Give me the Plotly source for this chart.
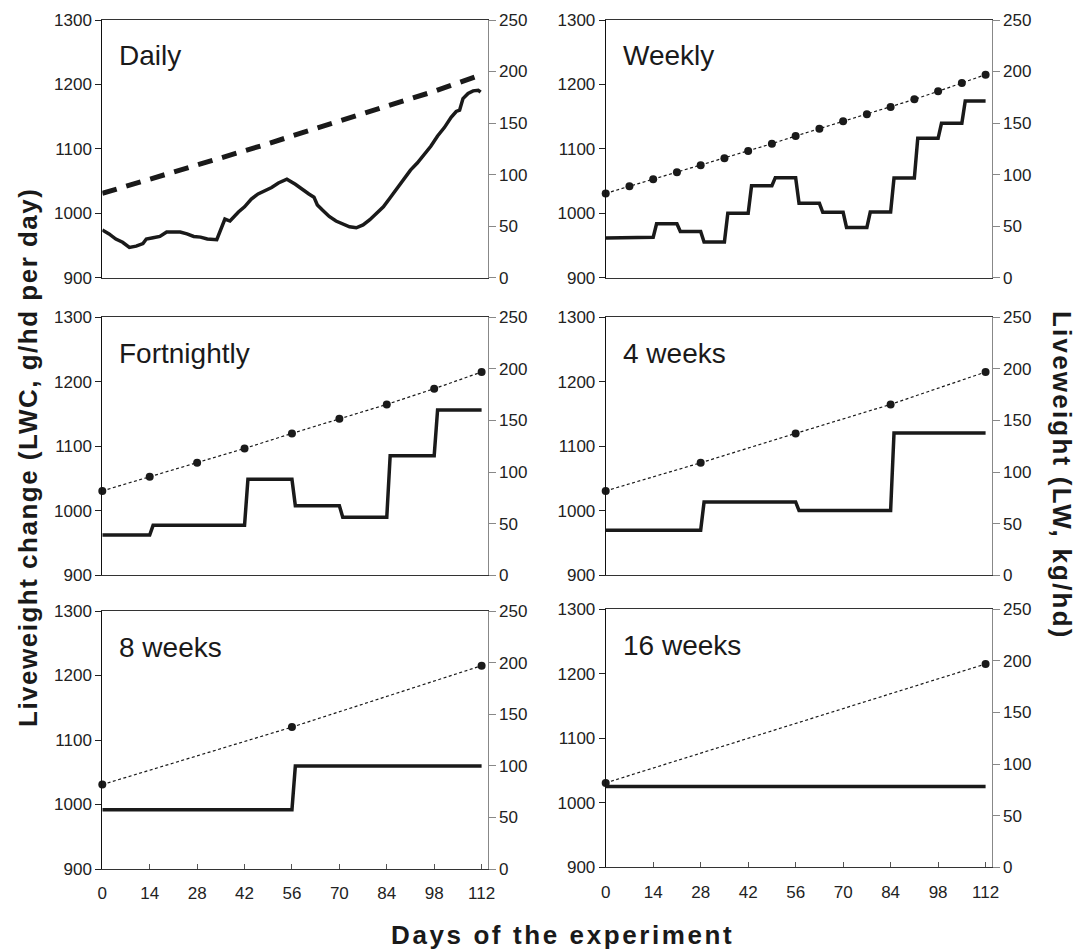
import plotly.graph_objects as go

# ---------------- data ----------------
panel_names = ["Daily", "Weekly", "Fortnightly", "4 weeks", "8 weeks", "16 weeks"]
day_ticks = [0, 14, 28, 42, 56, 70, 84, 98, 112]
lwc_ticks = [900, 1000, 1100, 1200, 1300]
lw_ticks = [0, 50, 100, 150, 200, 250]

# Liveweight (kg/hd) measured weekly
lw_days = [0, 7, 14, 21, 28, 35, 42, 49, 56, 63, 70, 77, 84, 91, 98, 105, 112]
lw_values = [81.8, 88.6, 95.4, 102.2, 109.0, 115.8, 122.9, 130.0, 137.5,
             144.6, 151.7, 158.5, 165.6, 173.0, 180.8, 188.9, 197.0]

# Daily liveweight change (g/hd per day)
daily_days = [0, 2, 4, 6, 8, 10, 12, 13, 15, 17, 19, 21, 23, 25, 27, 29, 31, 33.8,
              36.2, 37.7, 40.2, 42, 44, 46, 48, 50, 52, 54.5, 57, 59, 61, 62.5, 63.5,
              65, 67, 69, 71, 73, 75, 77, 79, 81, 83, 85, 87, 89, 91, 93, 95, 97, 99,
              101, 103, 104.5, 105.5, 106.5, 108, 109.5, 111, 111.7]
daily_lwc = [974, 968, 960, 955, 947, 949, 953, 960, 962, 964, 971, 971, 971, 968,
             964, 963, 960, 959, 991, 988, 1002, 1010, 1022, 1030, 1035, 1040, 1047,
             1053, 1045, 1037, 1030, 1025, 1013, 1005, 995, 988, 983, 979, 977.5, 982,
             990, 1000, 1010, 1024, 1038, 1053, 1067, 1078, 1090, 1104, 1120, 1133,
             1149, 1158, 1160, 1178, 1186, 1190, 1191, 1188]

# Liveweight change per weighing interval (g/hd per day)
weekly_lwc = [961.6, 962.6, 983.8, 971.9, 955.4, 999.9, 1042.8, 1055.3, 1015.4,
              1001.4, 978.1, 1001.9, 1054.7, 1116.3, 1139.6, 1174.3]
fortnightly_lwc = [962.5, 977.5, 977.5, 1048.8, 1008.0, 989.9, 1085.5, 1156.3]
four_week_lwc = [969.8, 1013.7, 1000.3, 1120.7]
eight_week_lwc = [992.0, 1059.7]
sixteen_week_lwc = [1025.1]

interval_days = [7, 14, 28, 56, 112]
interval_lwc = [weekly_lwc, fortnightly_lwc, four_week_lwc, eight_week_lwc, sixteen_week_lwc]

# ---------------- layout geometry (pixels) ----------------
W, H = 1077, 951
col_px = [(102.3, 487.7), (605.7, 991.7)]
row_px = [[(20, 277.7), (317.3, 575.3), (611, 869)],
          [(20, 277.7), (317.3, 575.3), (609.3, 867.3)]]

FONT = "Liberation Sans, Arial, Helvetica, sans-serif"
INK = "#1a1a1a"


def step_xy(levels, length):
    xs, ys = [], []
    for k, v in enumerate(levels):
        xs += [k * length + (1 if k > 0 else 0), (k + 1) * length]
        ys += [v, v]
    return xs, ys


fig = go.Figure()
layout = {}
annotations = []

for p, name in enumerate(panel_names):
    row, col = p // 2, p % 2
    x0, x1 = col_px[col]
    y0, y1 = row_px[col][row]
    xn = "" if p == 0 else str(p + 1)
    yl = "" if p == 0 else str(2 * p + 1)
    yr = str(2 * p + 2)
    xref, ylref, yrref = "x" + xn, "y" + yl, "y" + yr
    bottom = row == 2

    layout["xaxis" + xn] = dict(
        domain=[x0 / W, x1 / W], range=[0, 113.8], anchor=ylref,
        showline=True, linecolor="#333", linewidth=1, mirror=True,
        showgrid=False, zeroline=False,
        tickvals=day_ticks if bottom else [],
        ticks="inside" if bottom else "", ticklen=5, tickcolor="#555",
        showticklabels=bottom, ticklabelstandoff=9,
        tickfont=dict(family=FONT, size=17, color="#222"), automargin=False)
    layout["yaxis" + yl] = dict(
        domain=[1 - y1 / H, 1 - y0 / H], range=[900, 1300], anchor=xref,
        showline=True, linecolor="#111", linewidth=1,
        showgrid=False, zeroline=False, tickvals=lwc_ticks,
        ticks="outside", ticklen=6, tickcolor="#222",
        tickfont=dict(family=FONT, size=17, color="#222"), automargin=False)
    layout["yaxis" + yr] = dict(
        range=[0, 250], overlaying=ylref, side="right", anchor=xref,
        showline=True, linecolor="#888", linewidth=1,
        showgrid=False, zeroline=False, tickvals=lw_ticks,
        ticks="outside", ticklen=7, tickcolor="#888",
        tickfont=dict(family=FONT, size=17, color="#222"), automargin=False)

    if p == 0:
        fig.add_trace(go.Scatter(x=daily_days, y=daily_lwc, xaxis=xref, yaxis=ylref,
                                 mode="lines", line=dict(color=INK, width=3.5),
                                 showlegend=False))
        fig.add_trace(go.Scatter(x=lw_days, y=lw_values, xaxis=xref, yaxis=yrref,
                                 mode="lines",
                                 line=dict(color=INK, width=5, dash="15px,10px"),
                                 showlegend=False))
    else:
        L = interval_days[p - 1]
        sx, sy = step_xy(interval_lwc[p - 1], L)
        fig.add_trace(go.Scatter(x=sx, y=sy, xaxis=xref, yaxis=ylref, mode="lines",
                                 line=dict(color=INK, width=3.5), showlegend=False))
        step = L // 7
        fig.add_trace(go.Scatter(x=lw_days[::step], y=lw_values[::step],
                                 xaxis=xref, yaxis=yrref, mode="lines+markers",
                                 line=dict(color=INK, width=1.2, dash="3px,2.5px"),
                                 marker=dict(color=INK, size=8), cliponaxis=False,
                                 showlegend=False))

    annotations.append(dict(
        text=name, xref="paper", yref="paper", x=(x0 + 15) / W, y=1 - (y0 + 36) / H,
        xanchor="left", yanchor="middle", showarrow=False,
        font=dict(family=FONT, size=28, color="#1a1a1a")))

TITLE_FONT = dict(family=FONT, size=26, color="#1a1a1a")


def title_text(s, spacing):
    return "<b><span style='letter-spacing:%spx'>%s</span></b>" % (spacing, s)


annotations.append(dict(text=title_text("Liveweight change (LWC, g/hd per day)", 1.5),
                        xref="paper", yref="paper", x=28 / W, y=1 - 458 / H,
                        xanchor="center", yanchor="middle", textangle=-90,
                        showarrow=False, font=TITLE_FONT))
annotations.append(dict(text=title_text("Liveweight (LW, kg/hd)", 2.2),
                        xref="paper", yref="paper", x=1062 / W, y=1 - 475 / H,
                        xanchor="center", yanchor="middle", textangle=90,
                        showarrow=False, font=TITLE_FONT))
annotations.append(dict(text=title_text("Days of the experiment", 2.6),
                        xref="paper", yref="paper", x=562 / W, y=1 - 935 / H,
                        xanchor="center", yanchor="middle",
                        showarrow=False, font=TITLE_FONT))

fig.update_layout(**layout)
fig.update_layout(width=W, height=H, margin=dict(l=0, r=0, t=0, b=0),
                  paper_bgcolor="white", plot_bgcolor="white",
                  annotations=annotations, showlegend=False)

fig.write_html("out.html", config={"displayModeBar": False},
               post_script="document.body.style.margin='0';")
